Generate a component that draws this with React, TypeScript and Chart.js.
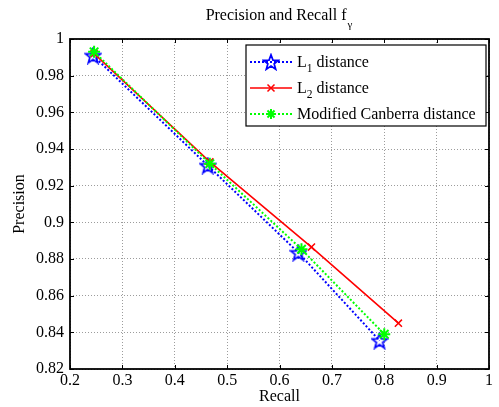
import React, { useEffect, useRef } from 'react';
import { Chart, registerables } from 'chart.js';

Chart.register(...registerables);

// Data
const recallL1 = [0.244, 0.463, 0.636, 0.791];
const precisionL1 = [0.991, 0.931, 0.8835, 0.8355];
const recallL2 = [0.246, 0.467, 0.661, 0.827];
const precisionL2 = [0.992, 0.933, 0.8865, 0.845];
const recallMC = [0.246, 0.467, 0.642, 0.8];
const precisionMC = [0.993, 0.932, 0.8853, 0.839];

const xTicks = [0.2, 0.3, 0.4, 0.5, 0.6, 0.7, 0.8, 0.9, 1];
const yTicks = [0.82, 0.84, 0.86, 0.88, 0.9, 0.92, 0.94, 0.96, 0.98, 1];

const seriesNames = ['L|1| distance', 'L|2| distance', 'Modified Canberra distance'];
const titleMain = 'Precision and Recall f';
const titleSub = 'γ';
const xLabel = 'Recall';
const yLabel = 'Precision';

const SERIF = '"Liberation Serif", "Times New Roman", serif';

function makePentagram(color: string): HTMLCanvasElement {
  const s = 18;
  const c = document.createElement('canvas');
  c.width = s;
  c.height = s;
  const ctx = c.getContext('2d')!;
  ctx.beginPath();
  for (let i = 0; i < 10; i++) {
    const r = i % 2 === 0 ? 8 : 3.3;
    const a = -Math.PI / 2 + (i * Math.PI) / 5;
    const x = s / 2 + r * Math.cos(a);
    const y = s / 2 + 0.8 + r * Math.sin(a);
    if (i === 0) ctx.moveTo(x, y);
    else ctx.lineTo(x, y);
  }
  ctx.closePath();
  ctx.strokeStyle = color;
  ctx.lineWidth = 1.7;
  ctx.stroke();
  return c;
}

function toPoints(xs: number[], ys: number[]) {
  return xs.map((x, i) => ({ x, y: ys[i] }));
}

function drawSubText(ctx: CanvasRenderingContext2D, text: string, x: number, y: number, size: number) {
  const parts = text.split('|');
  let cx = x;
  parts.forEach((p, i) => {
    if (i % 2 === 1) {
      ctx.font = `${size * 0.72}px ${SERIF}`;
      ctx.fillText(p, cx, y + size * 0.3);
    } else {
      ctx.font = `${size}px ${SERIF}`;
      ctx.fillText(p, cx, y);
    }
    cx += ctx.measureText(p).width;
  });
}

export default function App() {
  const ref = useRef<HTMLCanvasElement | null>(null);

  useEffect(() => {
    if (!ref.current) return;
    const star = makePentagram('#0000ff');

    const decor = {
      id: 'decor',
      afterDraw(chart: any) {
        const ctx: CanvasRenderingContext2D = chart.ctx;
        const { left, right, top, bottom } = chart.chartArea;
        const xs = chart.scales.x;
        const ys = chart.scales.y;
        ctx.save();
        ctx.strokeStyle = '#000';
        ctx.lineWidth = 1;
        ctx.setLineDash([]);
        const tl = 4;
        xTicks.forEach((v) => {
          const px = Math.round(xs.getPixelForValue(v)) + 0.5;
          ctx.beginPath();
          ctx.moveTo(px, bottom);
          ctx.lineTo(px, bottom - tl);
          ctx.moveTo(px, top);
          ctx.lineTo(px, top + tl);
          ctx.stroke();
        });
        yTicks.forEach((v) => {
          const py = Math.round(ys.getPixelForValue(v)) + 0.5;
          ctx.beginPath();
          ctx.moveTo(left, py);
          ctx.lineTo(left + tl, py);
          ctx.moveTo(right, py);
          ctx.lineTo(right - tl, py);
          ctx.stroke();
        });
        ctx.lineWidth = 1.8;
        ctx.strokeRect(left, top, right - left, bottom - top);

        // title
        ctx.fillStyle = '#000';
        ctx.textBaseline = 'alphabetic';
        ctx.textAlign = 'left';
        ctx.font = `16px ${SERIF}`;
        const w1 = ctx.measureText(titleMain).width;
        ctx.font = `11px ${SERIF}`;
        const w2 = ctx.measureText(titleSub).width;
        const tx = 279 - (w1 + w2 + 1) / 2;
        ctx.font = `16px ${SERIF}`;
        ctx.fillText(titleMain, tx, 20);
        ctx.font = `11px ${SERIF}`;
        ctx.fillText(titleSub, tx + w1 + 1, 28);

        // axis labels
        ctx.font = `16px ${SERIF}`;
        ctx.textAlign = 'center';
        ctx.textBaseline = 'middle';
        ctx.fillText(xLabel, (left + right) / 2, 397);
        ctx.save();
        ctx.translate(20, (top + bottom) / 2);
        ctx.rotate(-Math.PI / 2);
        ctx.fillText(yLabel, 0, 0);
        ctx.restore();

        // legend
        const lx = 246, ly = 45, lw = 240, lh = 81;
        ctx.fillStyle = '#fff';
        ctx.fillRect(lx, ly, lw, lh);
        ctx.strokeStyle = '#000';
        ctx.lineWidth = 1.2;
        ctx.strokeRect(lx, ly, lw, lh);
        const rows = [62, 88, 114];
        const colors = ['#0000ff', '#ff0000', '#00ff00'];
        rows.forEach((ry, i) => {
          ctx.strokeStyle = colors[i];
          ctx.lineWidth = i === 1 ? 1.5 : 2;
          ctx.setLineDash(i === 1 ? [] : [2, 2]);
          ctx.beginPath();
          ctx.moveTo(250, ry);
          ctx.lineTo(292, ry);
          ctx.stroke();
          ctx.setLineDash([]);
          const mx = 271;
          if (i === 0) {
            ctx.drawImage(star, mx - star.width / 2, ry - star.height / 2);
          } else if (i === 1) {
            ctx.lineWidth = 1.5;
            ctx.beginPath();
            ctx.moveTo(mx - 3.5, ry - 3.5);
            ctx.lineTo(mx + 3.5, ry + 3.5);
            ctx.moveTo(mx + 3.5, ry - 3.5);
            ctx.lineTo(mx - 3.5, ry + 3.5);
            ctx.stroke();
          } else {
            ctx.lineWidth = 2;
            ctx.beginPath();
            for (let k = 0; k < 4; k++) {
              const a = (k * Math.PI) / 4;
              ctx.moveTo(mx - 5 * Math.cos(a), ry - 5 * Math.sin(a));
              ctx.lineTo(mx + 5 * Math.cos(a), ry + 5 * Math.sin(a));
            }
            ctx.stroke();
          }
          ctx.fillStyle = '#000';
          ctx.textAlign = 'left';
          ctx.textBaseline = 'alphabetic';
          drawSubText(ctx, seriesNames[i], 297, ry + 5, 16);
        });
        ctx.restore();
      },
    };

    const chart = new Chart(ref.current, {
      type: 'scatter',
      data: {
        datasets: [
          {
            label: 'L1 distance',
            data: toPoints(recallL1, precisionL1),
            showLine: true,
            borderColor: '#0000ff',
            backgroundColor: '#0000ff',
            borderWidth: 2,
            borderDash: [2, 2],
            pointStyle: star as any,
            pointRadius: 8,
            order: 2,
          },
          {
            label: 'L2 distance',
            data: toPoints(recallL2, precisionL2),
            showLine: true,
            borderColor: '#ff0000',
            backgroundColor: '#ff0000',
            borderWidth: 1.6,
            pointStyle: 'crossRot',
            pointRadius: 5,
            pointBorderWidth: 1.5,
            order: 1,
          },
          {
            label: 'Modified Canberra distance',
            data: toPoints(recallMC, precisionMC),
            showLine: true,
            borderColor: '#00ff00',
            backgroundColor: '#00ff00',
            borderWidth: 2,
            borderDash: [2, 2],
            pointStyle: 'star',
            pointRadius: 6,
            pointBorderWidth: 2,
            order: 0,
          },
        ],
      },
      options: {
        animation: false,
        responsive: false,
        maintainAspectRatio: false,
        layout: { padding: { left: 0, right: 7, top: 39, bottom: 0 } },
        plugins: {
          legend: { display: false },
          title: { display: false },
          tooltip: { enabled: false },
        },
        scales: {
          x: {
            type: 'linear',
            min: 0.2,
            max: 1,
            afterFit: (s: any) => {
              s.height = 38;
            },
            afterBuildTicks: (s: any) => {
              s.ticks = xTicks.map((v) => ({ value: v }));
            },
            ticks: {
              color: '#000',
              font: { family: SERIF, size: 16 },
              padding: 2,
              maxRotation: 0,
              autoSkip: false,
              callback: (v: any) => String(Number(Number(v).toFixed(2))),
            },
            grid: { color: 'rgba(90,90,90,0.6)', lineWidth: 1, drawTicks: false },
            border: { display: false, dash: [1, 2] },
          },
          y: {
            type: 'linear',
            min: 0.82,
            max: 1,
            afterFit: (s: any) => {
              s.width = 70;
            },
            afterBuildTicks: (s: any) => {
              s.ticks = yTicks.map((v) => ({ value: v }));
            },
            ticks: {
              color: '#000',
              font: { family: SERIF, size: 16 },
              padding: 6,
              autoSkip: false,
              callback: (v: any) => String(Number(Number(v).toFixed(2))),
            },
            grid: { color: 'rgba(90,90,90,0.6)', lineWidth: 1, drawTicks: false },
            border: { display: false, dash: [1, 2] },
          },
        },
      },
      plugins: [decor],
    });
    return () => chart.destroy();
  }, []);

  return (
    <div style={{ position: 'fixed', left: 0, top: 0, width: 499, height: 407, background: '#fff' }}>
      <canvas ref={ref} width={499} height={407} style={{ display: 'block' }} />
    </div>
  );
}
